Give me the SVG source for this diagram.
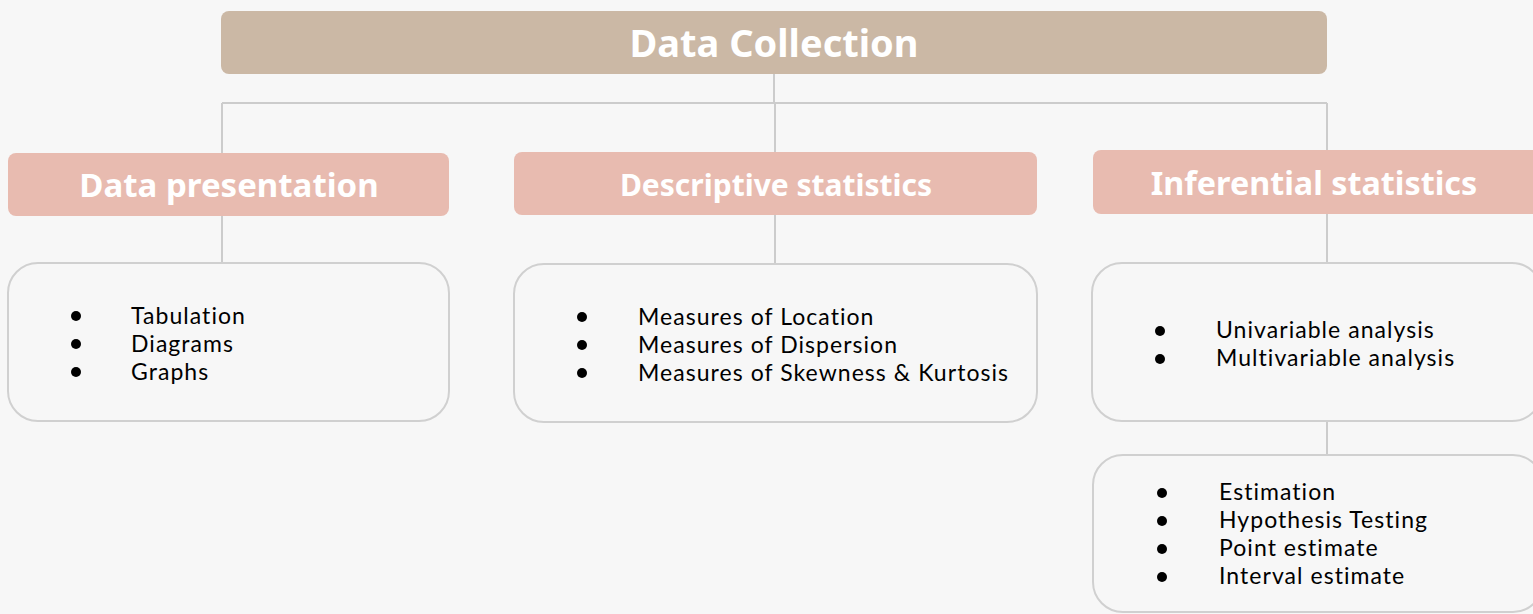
<svg xmlns="http://www.w3.org/2000/svg" width="1533" height="614" viewBox="0 0 1533 614">
<style>
.bg{fill:#f7f7f7}
.top{fill:#cbb8a5}
.head{fill:#e8bbb0}
.card{fill:#f7f7f7;stroke:#d0d0d0;stroke-width:2}
.conn{stroke:#cccccc;stroke-width:2;fill:none}
.ht{font-family:"Noto Sans",Lato,sans-serif;font-weight:bold;fill:#ffffff;text-anchor:middle;font-variant-ligatures:none}
.it{font-family:Lato,"Noto Sans",sans-serif;font-size:23px;letter-spacing:1.05px;fill:#000000;font-variant-ligatures:none}
.dot{fill:#000000}
</style>
<rect class="bg" x="0" y="0" width="1533" height="614"/>
<g id="connectors">
<path class="conn" d="M774 74V103M222 103H1327M222 103V263M775 103V264M1327 103V263M1327 421V455"/>
</g>
<g id="data-collection">
<rect class="top" x="221" y="11" width="1106" height="63" rx="8"/>
<text class="ht" x="774" y="57" font-size="38">Data Collection</text>
</g>
<g id="data-presentation">
<rect class="head" x="8" y="153" width="441" height="63" rx="8"/>
<text class="ht" x="229" y="197" font-size="33">Data presentation</text>
</g>
<g id="descriptive-statistics">
<rect class="head" x="514" y="152" width="523" height="63" rx="8"/>
<text class="ht" x="776" y="196" font-size="30">Descriptive statistics</text>
</g>
<g id="inferential-statistics">
<rect class="head" x="1093" y="150" width="450" height="64" rx="8"/>
<text class="ht" x="1314" y="195" font-size="32.3">Inferential statistics</text>
</g>
<g id="presentation-list">
<rect class="card" x="8" y="263" width="441" height="158" rx="30"/>
<circle class="dot" cx="76" cy="316" r="5"/><circle class="dot" cx="76" cy="344" r="5"/><circle class="dot" cx="76" cy="372" r="5"/>
<text class="it" x="131" y="324">Tabulation</text>
<text class="it" x="131" y="352">Diagrams</text>
<text class="it" x="131" y="380">Graphs</text>
</g>
<g id="descriptive-list">
<rect class="card" x="514" y="264" width="523" height="158" rx="30"/>
<circle class="dot" cx="582" cy="317" r="5"/><circle class="dot" cx="582" cy="345" r="5"/><circle class="dot" cx="582" cy="373" r="5"/>
<text class="it" x="638" y="325">Measures of Location</text>
<text class="it" x="638" y="353">Measures of Dispersion</text>
<text class="it" x="638" y="381">Measures of Skewness &amp; Kurtosis</text>
</g>
<g id="inferential-list">
<rect class="card" x="1092" y="263" width="450" height="158" rx="30"/>
<circle class="dot" cx="1160" cy="331" r="5"/><circle class="dot" cx="1160" cy="359" r="5"/>
<text class="it" x="1216" y="338">Univariable analysis</text>
<text class="it" x="1216" y="366">Multivariable analysis</text>
</g>
<g id="estimation-list">
<rect class="card" x="1093" y="455" width="450" height="157" rx="30"/>
<circle class="dot" cx="1162" cy="493" r="5"/><circle class="dot" cx="1162" cy="521" r="5"/><circle class="dot" cx="1162" cy="549" r="5"/><circle class="dot" cx="1162" cy="577" r="5"/>
<text class="it" x="1219" y="500">Estimation</text>
<text class="it" x="1219" y="528">Hypothesis Testing</text>
<text class="it" x="1219" y="556">Point estimate</text>
<text class="it" x="1219" y="584">Interval estimate</text>
</g>
</svg>
